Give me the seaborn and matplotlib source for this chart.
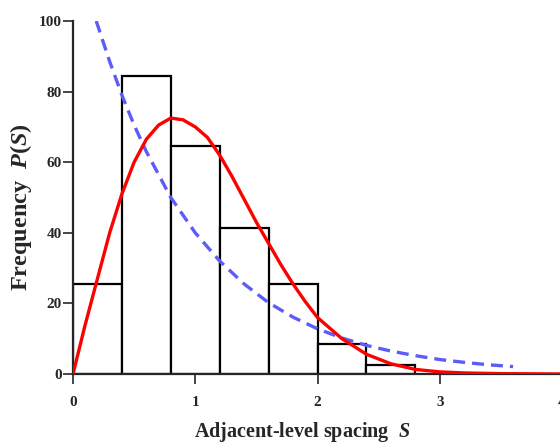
import numpy as np
import pandas as pd
import matplotlib
matplotlib.use("Agg")
import matplotlib.pyplot as plt
import seaborn as sns

# histogram: bin edges and bar heights
bin_edges = [0.0, 0.4, 0.8, 1.2, 1.6, 2.0, 2.4, 2.8]
bar_heights = [25.5, 84.5, 64.5, 41.5, 25.5, 8.5, 2.5]

# red solid curve
red_s = [0.0, 0.1, 0.2, 0.3, 0.4, 0.5, 0.6, 0.7, 0.8, 0.9, 1.0, 1.1, 1.2,
         1.3, 1.4, 1.5, 1.6, 1.7, 1.8, 1.9, 2.0, 2.2, 2.4, 2.6, 2.8, 3.0,
         3.2, 3.5, 4.0]
red_p = [0.0, 14, 27, 40, 51, 60, 66.5, 70.5, 72.5, 72, 70, 67, 62,
         56, 49.5, 43, 37, 31, 25.5, 20.5, 16, 10, 5.6, 2.9, 1.3, 0.6,
         0.3, 0.1, 0.0]

# blue dashed curve
blue_s = [0.19, 0.3, 0.4, 0.5, 0.6, 0.8, 1.0, 1.2, 1.4, 1.6, 1.8, 2.0,
          2.2, 2.4, 2.6, 2.8, 3.0, 3.2, 3.4, 3.6]
blue_p = [100, 88.5, 79, 70.5, 63, 50, 40, 32, 25.5, 20.2, 16.1, 12.8,
          10.2, 8.1, 6.5, 5.2, 4.1, 3.3, 2.6, 2.1]

x_ticks = [0, 1, 2, 3, 4]
y_ticks = [0, 20, 40, 60, 80, 100]

sns.set_style("ticks")
plt.rcParams["font.family"] = ["Liberation Serif", "DejaVu Serif"]
plt.rcParams["font.weight"] = "bold"
plt.rcParams["mathtext.fontset"] = "custom"
plt.rcParams["mathtext.it"] = "Liberation Serif:italic:bold"
plt.rcParams["mathtext.rm"] = "Liberation Serif:bold"

fig = plt.figure(figsize=(5.6, 4.43), dpi=100)
ax = fig.add_axes([73 / 560, 69 / 443, 489 / 560, 353 / 443])

centers = [(a + b) / 2 for a, b in zip(bin_edges[:-1], bin_edges[1:])]
hist_df = pd.DataFrame({"S": centers, "count": bar_heights})
sns.histplot(data=hist_df, x="S", weights="count", bins=bin_edges,
             color="white", edgecolor="black", linewidth=1.6, alpha=1,
             ax=ax)

sns.lineplot(x=red_s, y=red_p, color="#ff0000", linewidth=2.4, ax=ax,
             sort=False, zorder=4)
sns.lineplot(x=blue_s, y=blue_p, color="#5c5cf8", linewidth=2.4, ax=ax,
             sort=False, zorder=3, linestyle=(0, (3.6, 2.1)))
ax.lines[-1].set_dash_capstyle("butt")

ax.set_xlim(0, 4)
ax.set_ylim(0, 100)
ax.set_xticks(x_ticks)
ax.set_yticks(y_ticks)
ax.set_xticklabels([str(t) for t in x_ticks], fontsize=11, fontweight="bold")
ax.set_yticklabels([str(t) for t in y_ticks], fontsize=11, fontweight="bold")
ax.tick_params(axis="both", direction="out", length=7, width=1.2)
ax.tick_params(axis="x", pad=9)
ax.tick_params(axis="y", pad=1)

for side in ["top", "right"]:
    ax.spines[side].set_visible(False)
for side in ["left", "bottom"]:
    ax.spines[side].set_linewidth(1.6)

ax.set_xlabel("Adjacent-level spacing  $S$", fontsize=14.5, fontweight="bold")
ax.set_ylabel("Frequency  $P$($S$)", fontsize=17.5, fontweight="bold")
ax.xaxis.set_label_coords((302 - 73) / 489, -(432 - 374) / 353)
ax.yaxis.set_label_coords(-(73 - 21) / 489, (374 - 207) / 353)
ax.xaxis.label.set_va("center")
ax.yaxis.label.set_va("center")

fig.savefig("out.png", dpi=100)
